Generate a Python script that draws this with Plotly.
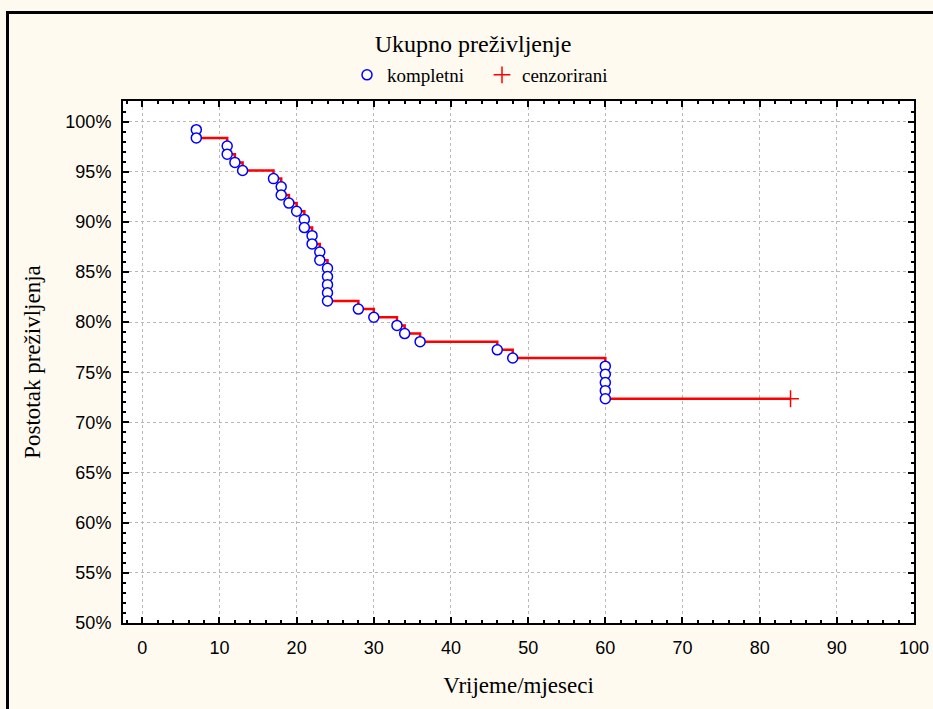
import plotly.graph_objects as go

# ---- data ----
event_times = [7, 7, 11, 11, 12, 13, 17, 18, 18, 19, 20, 21, 21, 22, 22, 23, 23,
               24, 24, 24, 24, 24, 28, 30, 33, 34, 36, 46, 48, 60, 60, 60, 60, 60]
survival_pct = [99.19, 98.37, 97.56, 96.75, 95.93, 95.12, 94.31, 93.50, 92.68,
                91.87, 91.06, 90.24, 89.43, 88.62, 87.80, 86.99, 86.18, 85.37,
                84.55, 83.74, 82.93, 82.11, 81.30, 80.49, 79.67, 78.86, 78.05,
                77.24, 76.42, 75.61, 74.80, 73.98, 73.17, 72.36]
censored_times = [84]
censored_pct = [72.36]

x_ticks = [0, 10, 20, 30, 40, 50, 60, 70, 80, 90, 100]
y_ticks = [50, 55, 60, 65, 70, 75, 80, 85, 90, 95, 100]
y_tick_text = [f"{v}%" for v in y_ticks]

title_text = "Ukupno preživljenje"
x_title = "Vrijeme/mjeseci"
y_title = "Postotak preživljenja"

# ---- figure ----
W, H = 933, 709
L, T = 123, 101
R = W - 914
B = H - 623
pw, ph = W - L - R, H - T - B


def px_x(sx):
    return (sx - L) / pw


def px_y(sy):
    return (T + ph - sy) / ph


serif = "Liberation Serif, Times New Roman, serif"
sans = "Liberation Sans, Arial, sans-serif"

fig = go.Figure()

# step line
fig.add_trace(go.Scatter(
    x=event_times + censored_times,
    y=survival_pct + censored_pct,
    mode="lines",
    line=dict(color="#ff0000", width=2.5, shape="hv"),
    showlegend=False,
    hoverinfo="skip",
))

# complete events
fig.add_trace(go.Scatter(
    x=event_times, y=survival_pct,
    mode="markers",
    name="kompletni",
    marker=dict(symbol="circle", size=10, color="white",
                line=dict(color="#0000ff", width=1.5)),
))

# censored
fig.add_trace(go.Scatter(
    x=censored_times, y=censored_pct,
    mode="markers",
    name="cenzorirani",
    marker=dict(symbol="cross-thin", size=12, color="#ff0000",
                line=dict(color="#ff0000", width=1.5)),
))

axis_common = dict(
    showline=True, linecolor="black", linewidth=2, mirror="allticks",
    ticks="inside", tickcolor="black", tickwidth=1.5, ticklen=6,
    showgrid=True, gridcolor="#b8b8b8", gridwidth=1, griddash="dot",
    zeroline=False, automargin=False,
    tickfont=dict(family=sans, size=18, color="black"),
)

fig.update_layout(
    width=W, height=H,
    margin=dict(l=L, r=R, t=T, b=B),
    paper_bgcolor="#fffaf0",
    plot_bgcolor="white",
    title=dict(text=title_text, x=px_x(473), xref="paper",
               y=1 - 44 / H, yref="container", xanchor="center", yanchor="middle",
               font=dict(family=serif, size=24, color="black")),
    legend=dict(orientation="h", x=px_x(482), xanchor="center",
                y=px_y(75), yanchor="middle",
                entrywidth=90, entrywidthmode="pixels",
                bgcolor="rgba(0,0,0,0)",
                font=dict(family=serif, size=19, color="black")),
    xaxis=dict(axis_common, range=[-2.5, 100], tickvals=x_ticks,
               minor=dict(dtick=2, ticks="inside", ticklen=3, tickcolor="black",
                          showgrid=False),
               ticklabelstandoff=7,
               title=dict(text=x_title, standoff=20,
                          font=dict(family=serif, size=23, color="black"))),
    yaxis=dict(axis_common, range=[50, 102.05], tickvals=y_ticks, ticktext=y_tick_text,
               minor=dict(dtick=1, ticks="inside", ticklen=3, tickcolor="black",
                          showgrid=False),
               ticklabelstandoff=6,
               title=dict(text=y_title, standoff=18,
                          font=dict(family=serif, size=23, color="black"))),
    shapes=[dict(type="rect", xref="paper", yref="paper",
                 x0=px_x(7.5), x1=px_x(960),
                 y0=px_y(740), y1=px_y(12.5),
                 line=dict(color="black", width=3), fillcolor="rgba(0,0,0,0)",
                 layer="below")],
)

fig.write_html(
    "out.html",
    config={"displayModeBar": False},
    post_script="document.body.style.margin='0';document.body.style.overflow='hidden';",
)
